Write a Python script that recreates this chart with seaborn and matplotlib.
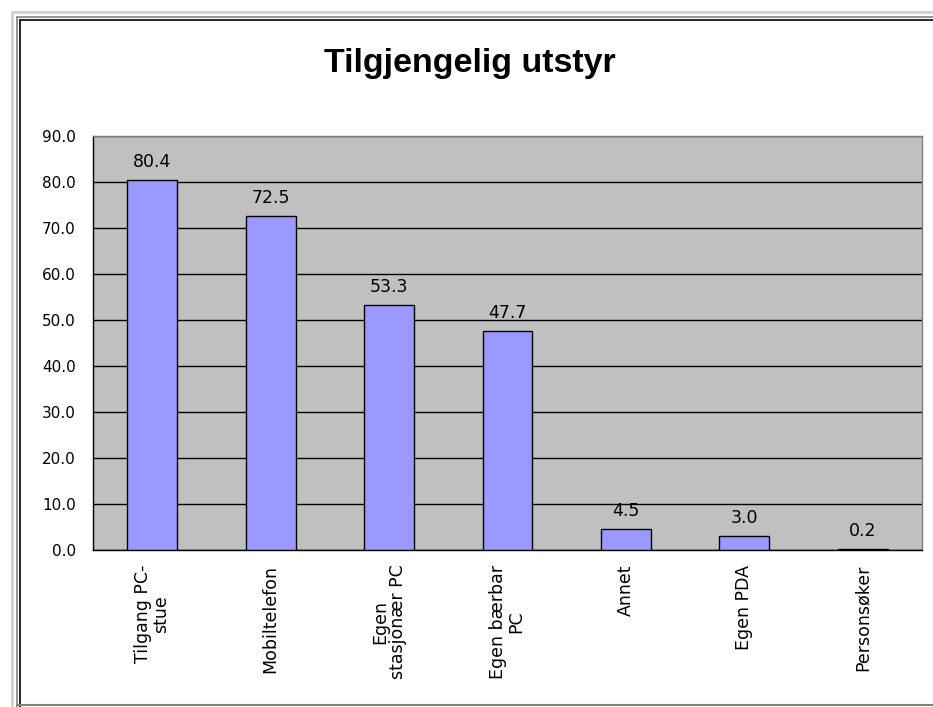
import numpy as np
import pandas as pd
import matplotlib
matplotlib.use('Agg')
import matplotlib.pyplot as plt
from matplotlib.lines import Line2D
from matplotlib.ticker import FixedLocator, MultipleLocator
import seaborn as sns

# Data
categories = ['Tilgang PC-\nstue', 'Mobiltelefon', 'Egen\nstasjonær PC',
              'Egen bærbar\nPC', 'Annet', 'Egen PDA', 'Personsøker']
values = [80.4, 72.5, 53.3, 47.7, 4.5, 3.0, 0.2]
title = 'Tilgjengelig utstyr'

sns.set_style('white')
plt.rcParams['font.family'] = ['DejaVu Sans']
plt.rcParams['text.color'] = 'black'
plt.rcParams['xtick.color'] = 'black'
plt.rcParams['ytick.color'] = 'black'

df = pd.DataFrame({'kategori': categories, 'verdi': values})

W, H = 933, 707
fig = plt.figure(figsize=(W / 100, H / 100), dpi=100)
fig.patch.set_facecolor('white')

# plot area in pixel coordinates
left, right, top, bottom = 93, 922, 136, 550
ax = fig.add_axes([left / W, 1 - bottom / H, (right - left) / W, (bottom - top) / H])
ax.set_facecolor('#C0C0C0')

sns.barplot(data=df, x='kategori', y='verdi', color='#9999FF', saturation=1,
            edgecolor='black', linewidth=1.0, width=0.42, ax=ax, zorder=3)

ax.set_xlim(-0.5, len(categories) - 0.5)
ax.set_ylim(0, 90)
ax.yaxis.set_major_locator(MultipleLocator(10))
ax.set_yticks(np.arange(0, 91, 10))
ax.set_yticklabels([f'{v:.1f}' for v in np.arange(0, 91, 10)], fontsize=11)
ax.grid(axis='y', color='black', linewidth=1.0, zorder=1)
ax.set_axisbelow(True)
ax.set_xlabel('')
ax.set_ylabel('')

# category labels, ticks between categories
ax.set_xticks(range(len(categories)))
ax.set_xticklabels(categories, rotation=90, fontsize=12.5, ha='center', va='top',
                   multialignment='center', linespacing=1.0)
ax.tick_params(axis='x', which='major', length=0, pad=10.5)
ax.xaxis.set_minor_locator(FixedLocator(np.arange(-0.5, len(categories), 1.0)))
ax.tick_params(axis='x', which='minor', length=4.5, width=1, color='black', direction='out')
ax.tick_params(axis='y', length=4.5, width=1, color='black', direction='out', pad=8)

for s in ['left', 'bottom']:
    ax.spines[s].set_color('black')
    ax.spines[s].set_linewidth(1.0)
for s in ['top', 'right']:
    ax.spines[s].set_color('#808080')
    ax.spines[s].set_linewidth(1.0)

# value labels above bars
for i, v in enumerate(values):
    ax.annotate(f'{v:.1f}', (i, v), xytext=(0, 9.4), textcoords='offset points',
                ha='center', va='baseline', fontsize=12.5)

fig.text(470 / W, 1 - 72 / H, title, ha='center', va='baseline',
         fontsize=24.5, fontweight='bold', family='Liberation Sans')

# window frame
def px_line(x0, y0, x1, y1, color, lw):
    fig.add_artist(Line2D([x0 / W, x1 / W], [1 - y0 / H, 1 - y1 / H],
                          transform=fig.transFigure, color=color, linewidth=lw))

px_line(11.5, 11.5, W, 11.5, '#D0D0D0', 2)
px_line(11.5, 11.5, 11.5, H, '#D0D0D0', 2)
px_line(17, 17, W, 17, '#808080', 1.2)
px_line(17, 17, 17, H, '#808080', 1.2)
px_line(19.5, 19.5, W, 19.5, 'black', 1.2)
px_line(19.5, 19.5, 19.5, H, 'black', 1.2)
px_line(17, 705, W, 705, '#808080', 1.5)

fig.savefig('out.png', dpi=100)
